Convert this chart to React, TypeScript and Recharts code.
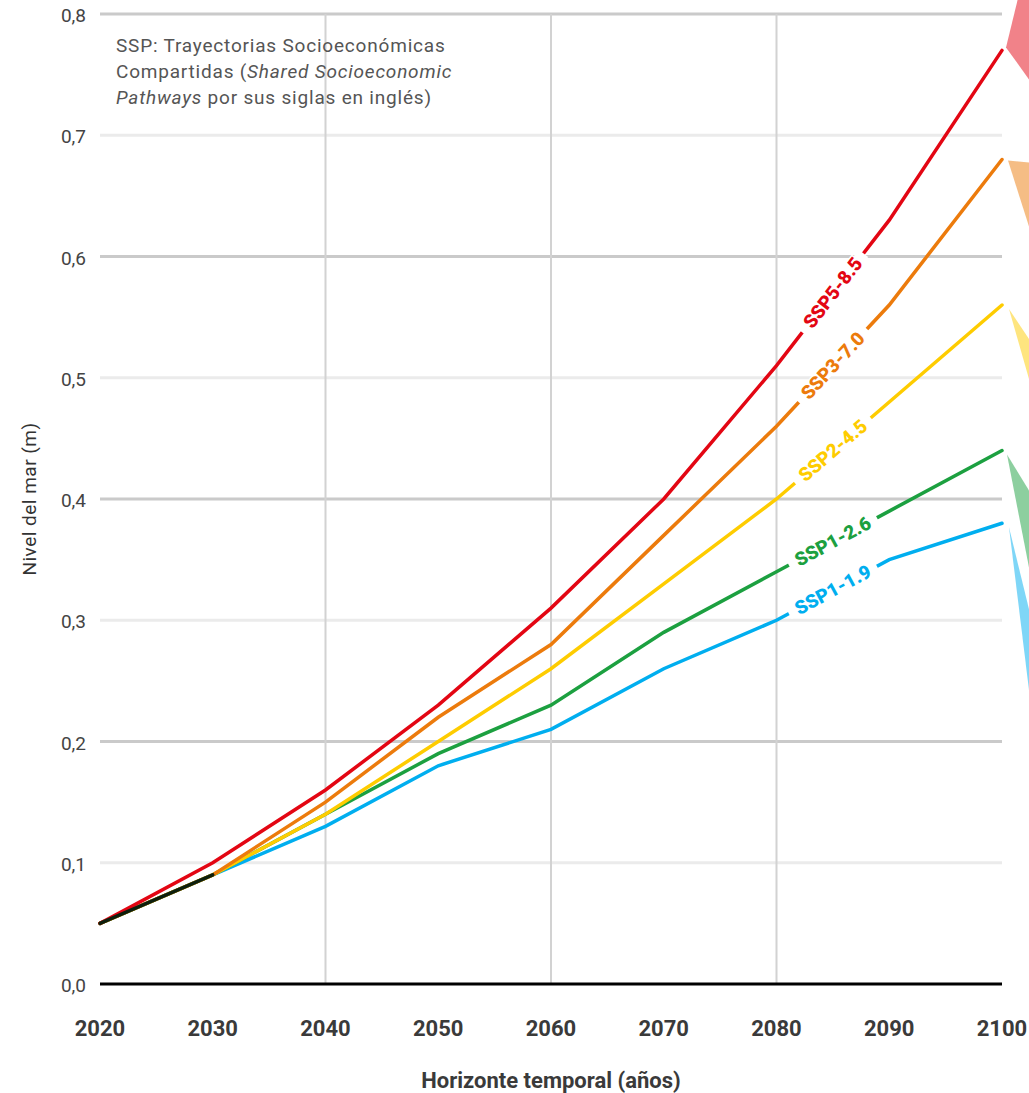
import { LineChart, Line, XAxis, YAxis, ReferenceLine } from "recharts";

const years = [2020, 2030, 2040, 2050, 2060, 2070, 2080, 2090, 2100];
const ssp585 = [0.05, 0.1, 0.16, 0.23, 0.31, 0.4, 0.51, 0.63, 0.77];
const ssp370 = [0.05, 0.09, 0.15, 0.22, 0.28, 0.37, 0.46, 0.56, 0.68];
const ssp245 = [0.05, 0.09, 0.14, 0.2, 0.26, 0.33, 0.4, 0.48, 0.56];
const ssp126 = [0.05, 0.09, 0.14, 0.19, 0.23, 0.29, 0.34, 0.39, 0.44];
const ssp119 = [0.05, 0.09, 0.13, 0.18, 0.21, 0.26, 0.3, 0.35, 0.38];
const historic = [0.05, 0.09];
const yTicks = [0, 0.1, 0.2, 0.3, 0.4, 0.5, 0.6, 0.7, 0.8];
const darkGrid = [0.2, 0.4, 0.6, 0.8];
const lightGrid = [0.1, 0.3, 0.5, 0.7];
const verticalGrid = [2040, 2060, 2080];

const data = years.map((year, i) => ({
  year,
  ssp585: ssp585[i],
  ssp370: ssp370[i],
  ssp245: ssp245[i],
  ssp126: ssp126[i],
  ssp119: ssp119[i],
  historic: i < historic.length ? historic[i] : null,
}));

// wedge shapes on the right edge, relative to each line's last point
const series = [
  { key: "ssp119", name: "SSP1-1.9", color: "#00aeef", tip: [7, 4], a: [20, 82], b: [20, 163] },
  { key: "ssp126", name: "SSP1-2.6", color: "#1ca040", tip: [5, 4], a: [22, 36], b: [22, 113] },
  { key: "ssp245", name: "SSP2-4.5", color: "#fecc00", tip: [7, 4], a: [20, 30], b: [20, 70] },
  { key: "ssp370", name: "SSP3-7.0", color: "#ec7b0c", tip: [6, 1], a: [21, 2], b: [21, 66] },
  { key: "ssp585", name: "SSP5-8.5", color: "#e30613", tip: [4, -3], a: [11, -45], b: [23, 32] },
];

const FONT = "Roboto, 'Noto Sans', sans-serif";

const makeDot = (s: (typeof series)[number]) => (props: any) => {
  const { index, points } = props;
  const key = `${s.key}-dot-${index}`;
  if (!points || !points[index]) return <g key={key} />;
  if (index === 7) {
    const p = points[6];
    const q = points[7];
    const mx = (p.x + q.x) / 2;
    const my = (p.y + q.y) / 2;
    const ang = (Math.atan2(q.y - p.y, q.x - p.x) * 180) / Math.PI;
    const w = s.name.length * 11 + 12;
    return (
      <g key={key} transform={`translate(${mx},${my}) rotate(${ang})`}>
        <rect x={-w / 2} y={-6} width={w} height={12} fill="#fff" />
        <text
          textAnchor="middle"
          dominantBaseline="central"
          fontFamily={FONT}
          fontWeight={900}
          fontSize={19}
          fill={s.color}
          stroke="#fff"
          strokeWidth={3}
          paintOrder="stroke"
        >
          {s.name}
        </text>
      </g>
    );
  }
  if (index === 8) {
    const e = points[8];
    const tx = e.x + s.tip[0];
    const ty = e.y + s.tip[1];
    const pts = `${tx},${ty} ${tx + 2 * s.a[0]},${ty + 2 * s.a[1]} ${tx + 2 * s.b[0]},${ty + 2 * s.b[1]}`;
    return <polygon key={key} points={pts} fill={s.color} fillOpacity={0.5} />;
  }
  return <g key={key} />;
};

const XTick = (props: any) => {
  const { x, y, payload } = props;
  return (
    <text x={x} y={y + 52} textAnchor="middle" fontFamily={FONT} fontWeight={700} fontSize={22} fill="#3a3a3a">
      {payload.value}
    </text>
  );
};

const YTick = (props: any) => {
  const { y, payload } = props;
  return (
    <text x={86} y={y + 8} textAnchor="end" fontFamily={FONT} fontSize={19} fill="#444">
      {payload.value.toFixed(1).replace(".", ",")}
    </text>
  );
};

export default function App() {
  return (
    <div style={{ position: "absolute", left: 0, top: 0, width: 1029, height: 1093, background: "#fff" }}>
      <LineChart width={1029} height={1093} data={data} margin={{ top: 14, right: 27, left: 0, bottom: 0 }}>
        <XAxis
          dataKey="year"
          type="number"
          domain={[2020, 2100]}
          ticks={years}
          tickLine={false}
          tickSize={0}
          tickMargin={0}
          height={109}
          axisLine={false}
          tick={<XTick />}
          label={{
            content: (p: any) => (
              <text
                x={p.viewBox.x + p.viewBox.width / 2}
                y={1088}
                textAnchor="middle"
                fontFamily={FONT}
                fontWeight={700}
                fontSize={22}
                fill="#3a3a3a"
              >
                Horizonte temporal (años)
              </text>
            ),
          }}
        />
        <YAxis
          type="number"
          domain={[0, 0.8]}
          ticks={yTicks}
          width={100}
          tickLine={false}
          axisLine={false}
          tick={<YTick />}
          label={{
            content: () => (
              <text
                transform="translate(36,499) rotate(-90)"
                textAnchor="middle"
                fontFamily={FONT}
                fontSize={19}
                letterSpacing={0.5}
                fill="#333"
              >
                Nivel del mar (m)
              </text>
            ),
          }}
        />
        {lightGrid.map((v) => (
          <ReferenceLine key={`l${v}`} y={v} stroke="#ebebeb" strokeWidth={3} />
        ))}
        {darkGrid.map((v) => (
          <ReferenceLine key={`d${v}`} y={v} stroke="#cacaca" strokeWidth={3} />
        ))}
        {verticalGrid.map((v) => (
          <ReferenceLine key={`v${v}`} x={v} stroke="#d2d2d2" strokeWidth={2} />
        ))}
        <ReferenceLine y={0} stroke="#000" strokeWidth={3} />
        {series.map((s) => (
          <Line
            key={s.key}
            dataKey={s.key}
            type="linear"
            stroke={s.color}
            strokeWidth={3.5}
            strokeLinecap="round"
            dot={makeDot(s)}
            activeDot={false}
            isAnimationActive={false}
          />
        ))}
        <Line
          dataKey="historic"
          type="linear"
          stroke="#0d1f0d"
          strokeWidth={3.5}
          strokeLinecap="round"
          dot={false}
          activeDot={false}
          isAnimationActive={false}
        />
      </LineChart>
      <div
        style={{
          position: "absolute",
          left: 116,
          top: 33,
          fontFamily: FONT,
          fontSize: 19,
          lineHeight: "26px",
          letterSpacing: 0.8,
          color: "#555",
        }}
      >
        SSP: Trayectorias Socioeconómicas
        <br />
        Compartidas (<i>Shared Socioeconomic</i>
        <br />
        <i>Pathways</i> por sus siglas en inglés)
      </div>
    </div>
  );
}
